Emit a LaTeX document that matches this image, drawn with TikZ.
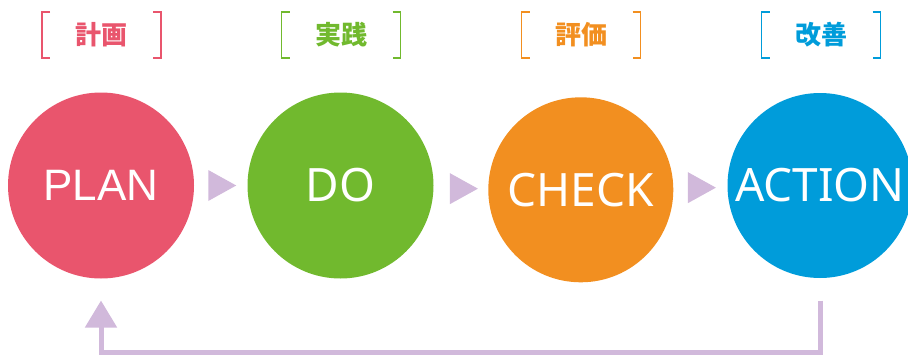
\documentclass[tikz,border=0pt]{standalone}
\usepackage{fontspec}
\setmainfont{Noto Sans}
\newfontfamily\arialfont{Liberation Sans}
\newfontfamily\jp{Noto Sans CJK JP}
\usetikzlibrary{calc,arrows.meta}
\definecolor{cplan}{HTML}{E9556D}
\definecolor{cdo}{HTML}{71B92E}
\definecolor{ccheck}{HTML}{F28F20}
\definecolor{caction}{HTML}{009CDA}
\definecolor{lilac}{HTML}{D1B9DB}
\begin{document}
\begin{tikzpicture}[x=1pt,y=-1pt,
  phase/.style={circle,fill=#1,minimum size=186pt,inner sep=0pt,text=white,
    font=\fontsize{46}{46}\selectfont},
  lbl/.style={text=#1,inner sep=0pt,font=\jp\bfseries\fontsize{26}{26}\selectfont},
  brk/.style={draw=#1,line width=1.6pt},
  tri/.style={fill=lilac},
  fb/.style={draw=lilac,line width=5pt}]
\useasboundingbox (0,0) rectangle (908,356);
\clip (0,0) rectangle (908,356);
% circles
\node[phase=cplan,font=\arialfont\fontsize{44}{44}\selectfont] (plan) at (101,185.5) {PLAN};
\node[phase=cdo] (do) at (340.5,185.5) {DO};
\node[phase=ccheck,minimum size=185pt] (check) at (580.8,189.8) {CHECK};
\node[phase=caction,minimum size=185pt] (action) at (820,185.5) {ACTION};
% labels
\node[lbl=cplan] (l1) at (101.5,35) {計画};
\node[lbl=cdo] (l2) at (341,35) {実践};
\node[lbl=ccheck] (l3) at (581,35) {評価};
\node[lbl=caction] (l4) at (821,35) {改善};
\foreach \l/\c in {l1/cplan,l2/cdo,l3/ccheck,l4/caction}{
  \draw[brk=\c] ($(\l)+(-51.5,-23)$) -- ++(-8,0) -- ++(0,46) -- ++(8,0);
  \draw[brk=\c] ($(\l)+(51.5,-23)$) -- ++(8,0) -- ++(0,46) -- ++(-8,0);
}
% triangles between circles
\path ($(plan.east)!0.5!(do.west)$) ++(1.5,0) coordinate (m1);
\path ($(do.east)!0.5!(check.west)$) ++(3,1) coordinate (m2);
\path ($(check.east)!0.5!(action.west)$) ++(1.5,0) coordinate (m3);
\foreach \m in {m1,m2,m3}{
  \fill[tri] ($(\m)+(-14,-15.5)$) -- ($(\m)+(14,0)$) -- ($(\m)+(-14,15.5)$) -- cycle;
}
% feedback arrow
\coordinate (fbs) at (820.3,300.5);
\coordinate (fbe) at (101,300.5);
\draw[fb,-{Triangle[width=31pt,length=27pt]}] (fbs) -- (fbs |- 0,352.5) -- (fbe |- 0,352.5) -- (fbe);
\end{tikzpicture}
\end{document}
